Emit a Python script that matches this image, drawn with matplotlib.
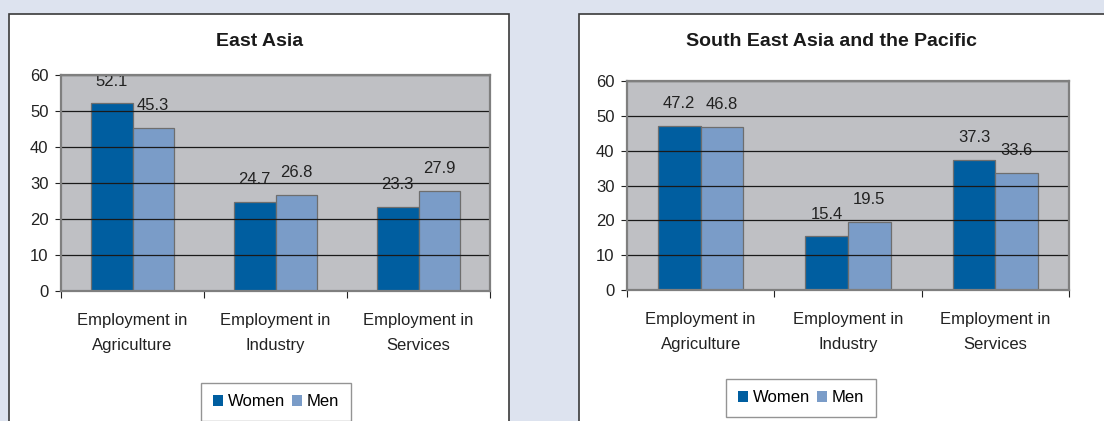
import matplotlib.pyplot as plt
from matplotlib.patches import Rectangle

categories = ["Employment in\nAgriculture", "Employment in\nIndustry", "Employment in\nServices"]
series = ["Women", "Men"]
east_women = [52.1, 24.7, 23.3]
east_men = [45.3, 26.8, 27.9]
sea_women = [47.2, 15.4, 37.3]
sea_men = [46.8, 19.5, 33.6]
y_ticks = [0, 10, 20, 30, 40, 50, 60]

WOMEN = "#005ea0"
MEN = "#7a9cc8"
PLOT_BG = "#bfc0c4"
PAGE_BG = "#dde3ef"

plt.rcParams["font.family"] = ["Liberation Sans", "DejaVu Sans"]

W, H = 1104, 421
fig = plt.figure(figsize=(W / 100, H / 100), dpi=100)
fig.patch.set_facecolor(PAGE_BG)


def px_box(x0, y0, x1, y1):
    # pixel box (top-left origin) -> figure fraction [l, b, w, h]
    return [x0 / W, (H - y1) / H, (x1 - x0) / W, (y1 - y0) / H]


def panel(x0, y0, x1, y1):
    l, b, w, h = px_box(x0, y0, x1, y1)
    fig.patches.append(Rectangle((l, b), w, h, transform=fig.transFigure,
                                 facecolor="white", edgecolor="#3a3a3a",
                                 linewidth=1.2, zorder=-10))


def chart(box, title, title_xy, women, men, legend_xy):
    ax = fig.add_axes(px_box(*box))
    ax.set_facecolor(PLOT_BG)
    xs = list(range(len(categories)))
    bw = 0.29
    for vals, off, col in ((women, -bw / 2, WOMEN), (men, bw / 2, MEN)):
        pos = [x + off for x in xs]
        ax.bar(pos, vals, width=bw, color=col, edgecolor="#6e6e6e",
               linewidth=0.9, zorder=2)
        for p, v in zip(pos, vals):
            ax.annotate(f"{v:.1f}", (p, v), xytext=(0, 16), textcoords="offset points",
                        ha="center", va="center", fontsize=12, color="#222222")
    for t in y_ticks[1:]:
        ax.axhline(t, color="#1a1a1a", linewidth=0.9, zorder=3)
    ax.set_xlim(-0.5, len(categories) - 0.5)
    ax.set_ylim(0, 60)
    ax.set_yticks(y_ticks)
    ax.tick_params(axis="y", labelsize=12, length=4, width=0.8, pad=5, colors="#222222")
    ax.set_xticks([x - 0.5 for x in range(len(categories) + 1)])
    ax.set_xticklabels([])
    ax.tick_params(axis="x", which="major", length=5, width=0.8, colors="#222222")
    ax.set_xticks(xs, minor=True)
    ax.set_xticklabels(categories, minor=True, fontsize=12, color="#222222",
                       linespacing=1.8)
    ax.tick_params(axis="x", which="minor", length=0, pad=16)
    for s in ax.spines.values():
        s.set_color("#7f7f7f")
        s.set_linewidth(1.6)
        s.set_zorder(4)
    fig.text(title_xy[0] / W, 1 - title_xy[1] / H, title, ha="center", va="center",
             fontsize=14, fontweight="bold", color="#1a1a1a")
    handles = [Rectangle((0, 0), 1, 1, facecolor=c) for c in (WOMEN, MEN)]
    fig.legend(handles, series, loc="center",
               bbox_to_anchor=(legend_xy[0] / W, 1 - legend_xy[1] / H),
               ncol=2, fontsize=12, frameon=True, fancybox=False,
               edgecolor="#7a7a7a", handlelength=0.6, handleheight=0.6,
               handletextpad=0.3, columnspacing=0.4, borderpad=0.7,
               borderaxespad=0)


panel(9, 14, 509, 440)
panel(579, 14, 1120, 440)

chart((61, 75, 490, 291), "East Asia", (260, 41), east_women, east_men, (276, 402))
chart((627, 81, 1069, 290), "South East Asia and the Pacific", (832, 41),
      sea_women, sea_men, (801, 398))

fig.savefig("out.png", dpi=100, facecolor=fig.get_facecolor())
